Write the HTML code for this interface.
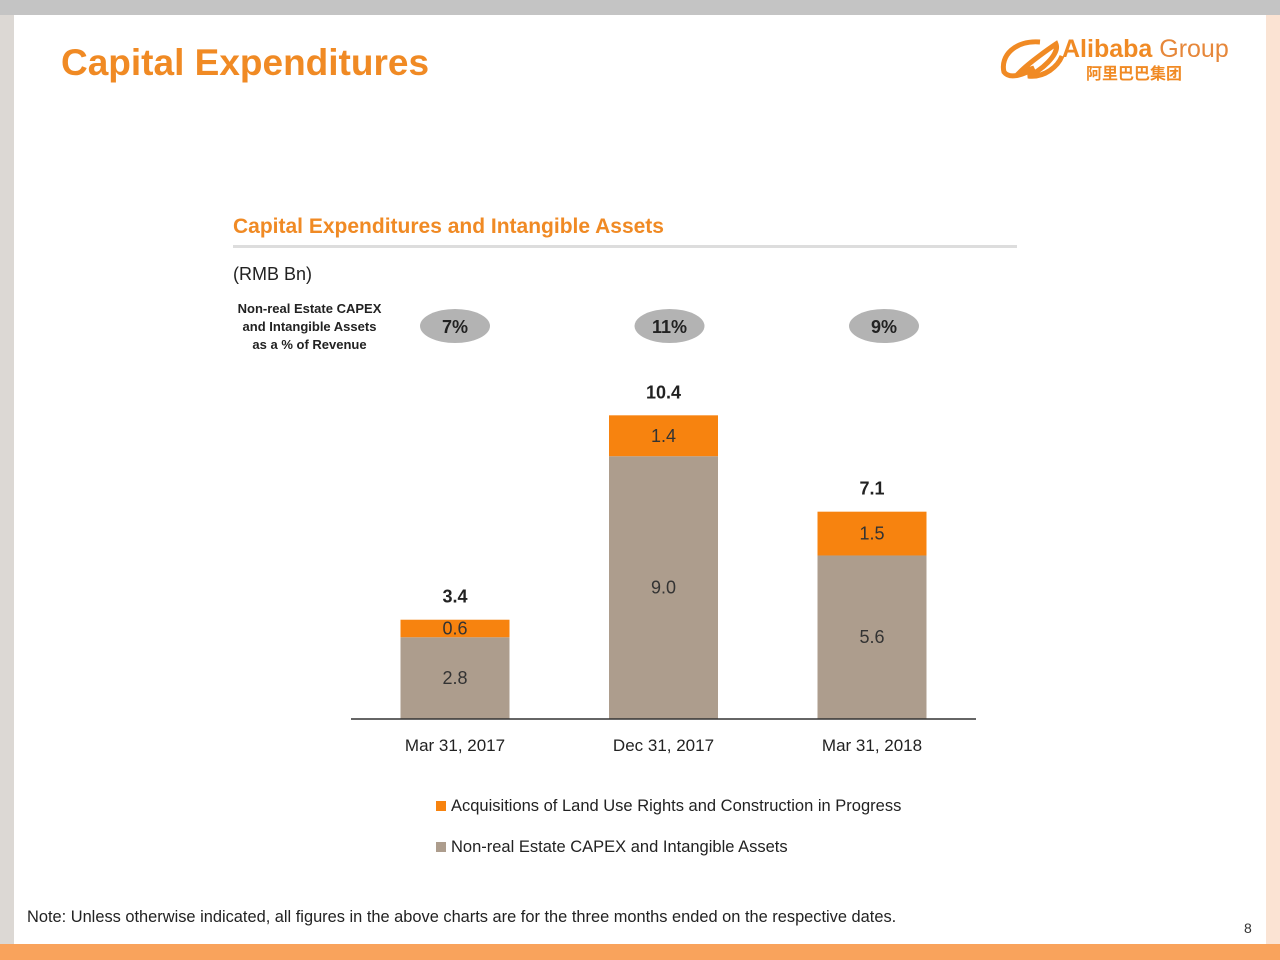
<!DOCTYPE html>
<html><head><meta charset="utf-8"><style>
body{margin:0;width:1280px;height:960px;position:relative;background:#fff;font-family:"Liberation Sans","Noto Sans CJK SC",sans-serif;overflow:hidden}
.a{position:absolute}
</style></head><body>
<div class="a" style="left:0;top:0;width:1280px;height:15px;background:#c4c4c4"></div>
<div class="a" style="left:0;top:15px;width:14px;height:930px;background:#dcd8d4"></div>
<div class="a" style="left:1266px;top:15px;width:14px;height:930px;background:#fbe3d3"></div>
<div class="a" style="left:0;top:944px;width:1280px;height:16px;background:#f9a35c"></div>
<div class="a" style="left:61px;top:42px;font-size:37px;font-weight:bold;color:#f08a24">Capital Expenditures</div>
<div class="a" style="left:1000px;top:34px;width:260px;height:50px">
<svg width="70" height="46" style="position:absolute;left:0;top:2px"><path d="M40 6 C15 4 0 20 4 36 C10 44 25 38 34 32 L20 36 C30 26 50 12 56 8 C60 18 40 36 28 40 C45 42 58 30 62 20" stroke="#f08a24" stroke-width="5" fill="none"/></svg>
<div class="a" style="left:62px;top:1px;font-size:25px;color:#f08a24;white-space:nowrap"><b>Alibaba</b> <span style="color:#e6873a">Group</span></div>
<div class="a" style="left:86px;top:26px;font-size:16px;color:#f08a24;font-weight:bold">阿里巴巴集团</div>
</div>
<div class="a" style="left:233px;top:215px;font-size:21px;font-weight:bold;color:#f08a24">Capital Expenditures and Intangible Assets</div>
<div class="a" style="left:233px;top:245px;width:784px;height:3px;background:#ddd"></div>
<div class="a" style="left:233px;top:264px;font-size:18px;color:#222">(RMB Bn)</div>
<div class="a" style="left:222px;top:300px;width:175px;text-align:center;font-size:13px;font-weight:bold;line-height:18px;color:#222">Non-real Estate CAPEX<br>and Intangible Assets<br>as a % of Revenue</div>
<svg class="a" style="left:0;top:0" width="1280" height="960" id="chart"></svg>
<div class="a" style="left:436px;top:786px;font-size:16.5px;color:#222;line-height:41px">
<div><span style="display:inline-block;width:10px;height:10px;background:#f7830f;margin-right:5px"></span>Acquisitions of Land Use Rights and Construction in Progress</div>
<div><span style="display:inline-block;width:10px;height:10px;background:#ad9d8d;margin-right:5px"></span>Non-real Estate CAPEX and Intangible Assets</div>
</div>
<div class="a" style="left:27px;top:908px;font-size:16.4px;color:#222;white-space:nowrap">Note: Unless otherwise indicated, all figures in the above charts are for the three months ended on the respective dates.</div>
<div class="a" style="left:1244px;top:920px;font-size:14px;color:#333">8</div>
<script>
const categories=["Mar 31, 2017","Dec 31, 2017","Mar 31, 2018"];
const capex=[2.8,9.0,5.6];
const land=[0.6,1.4,1.5];
const totals=["3.4","10.4","7.1"];
const pcts=["7%","11%","9%"];
const svg=document.getElementById('chart');const NS="http://www.w3.org/2000/svg";
const base=719,scale=29.2,x0=351,step=208.5,bw=109;
const y=v=>base-v*scale;const cx=i=>x0+104+i*step;
function el(t,a,txt){const e=document.createElementNS(NS,t);for(const k in a)e.setAttribute(k,a[k]);if(txt!==undefined)e.textContent=txt;svg.appendChild(e);return e;}
categories.forEach((c,i)=>{
 const r1=el('rect',{x:cx(i)-bw/2,y:y(capex[i]),width:bw,height:capex[i]*scale,fill:'#ad9d8d'});
 
 
 const r2=el('rect',{x:cx(i)-bw/2,y:y(capex[i]+land[i]),width:bw,height:land[i]*scale,fill:'#f7830f'});
 
 
 const t1=el('text',{x:cx(i),y:(y(capex[i])+base)/2+6,'text-anchor':'middle','font-size':18,fill:'#333','font-family':'Liberation Sans'},capex[i].toFixed(1));
 
 
 const t2=el('text',{x:cx(i),y:(y(capex[i])+y(capex[i]+land[i]))/2+6,'text-anchor':'middle','font-size':18,fill:'#333','font-family':'Liberation Sans'},land[i].toFixed(1));
 
 
 const t3=el('text',{x:cx(i),y:y(capex[i]+land[i])-17,'text-anchor':'middle','font-size':18,'font-weight':'bold',fill:'#222','font-family':'Liberation Sans'},totals[i]);
 
 
 const t4=el('text',{x:cx(i),y:751,'text-anchor':'middle','font-size':17,fill:'#222','font-family':'Liberation Sans'},c);
 
 
 const bx=cx(i)+i*6;
 const e=el('ellipse',{cx:bx,cy:326,rx:35,ry:17,fill:'#b3b3b3'});
 
 
 const t5=el('text',{x:bx,y:333,'text-anchor':'middle','font-size':18,'font-weight':'bold',fill:'#222','font-family':'Liberation Sans'},pcts[i]);
 
 
});
const ax=el('line',{x1:351,x2:976,y1:base,y2:base,stroke:'#333','stroke-width':1.5});


</script>
</body></html>
